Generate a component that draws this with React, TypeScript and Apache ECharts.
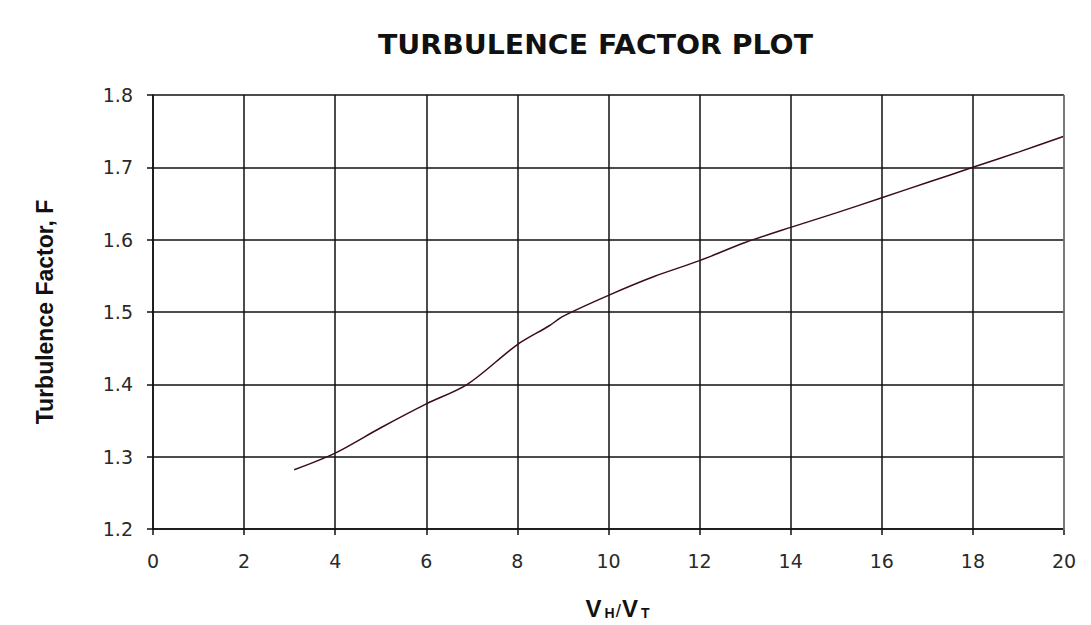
import React, { useEffect, useRef } from "react";
import * as echarts from "echarts";

const xValues = [3.1, 4, 5, 6, 6.9, 8, 8.7, 9, 10, 11, 12, 13, 14, 15, 16, 17, 18, 19, 20];
const fValues = [1.282, 1.305, 1.34, 1.373, 1.4, 1.455, 1.481, 1.494, 1.523, 1.549, 1.571, 1.596, 1.617, 1.637, 1.658, 1.679, 1.7, 1.721, 1.743];

const titleText = "TURBULENCE FACTOR PLOT";
const yAxisTitle = "Turbulence Factor, F";

export default function App() {
  const ref = useRef<HTMLDivElement>(null);
  useEffect(() => {
    if (!ref.current) return;
    const chart = echarts.init(ref.current, undefined, { renderer: "svg" });
    const data = xValues.map((x, i) => [x, fValues[i]]);
    chart.setOption({
      animation: false,
      backgroundColor: "#ffffff",
      grid: { left: 153, right: 27, top: 95, bottom: 95, containLabel: false },
      xAxis: {
        type: "value",
        min: 0,
        max: 20,
        interval: 2,
        name: "{v|V}{s|H}{sl|/}{v|V}{s|T}",
        nameLocation: "middle",
        nameGap: 67,
        nameTextStyle: {
          padding: [0, 0, 0, 18],
          rich: {
            v: { fontFamily: "Liberation Sans", fontSize: 24, fontWeight: "bold", color: "#111", lineHeight: 24, verticalAlign: "bottom", padding: [0, 3, 0, 0] },
            s: { fontFamily: "Liberation Sans", fontSize: 14, fontWeight: "bold", color: "#111", lineHeight: 24, verticalAlign: "bottom" },
            sl: { fontFamily: "Liberation Sans", fontSize: 19, color: "#111", lineHeight: 24, verticalAlign: "bottom", padding: [0, 1, 0, 1] },
          },
        },
        axisLine: { show: true, onZero: false, lineStyle: { color: "#111", width: 1.5 } },
        axisTick: { show: true, inside: false, length: 6, lineStyle: { color: "#111", width: 1.5 } },
        axisLabel: { fontFamily: "DejaVu Sans", fontSize: 19, color: "#2a2a2a", margin: 22 },
        splitLine: { show: true, lineStyle: { color: "#111", width: 1.5 } },
      },
      yAxis: {
        type: "value",
        min: 1.2,
        max: 1.8,
        interval: 0.1,
        name: yAxisTitle,
        nameLocation: "middle",
        nameGap: 97,
        nameTextStyle: { fontFamily: "Liberation Sans", fontSize: 23, fontWeight: "bold", color: "#111" },
        axisLine: { show: true, onZero: false, lineStyle: { color: "#111", width: 1.5 } },
        axisTick: { show: true, inside: false, length: 6, lineStyle: { color: "#111", width: 1.5 } },
        axisLabel: {
          fontFamily: "DejaVu Sans",
          fontSize: 19,
          color: "#2a2a2a",
          margin: 20,
          formatter: (v: number) => v.toFixed(1),
        },
        splitLine: { show: true, lineStyle: { color: "#111", width: 1.5 } },
      },
      series: [
        {
          type: "line",
          data,
          smooth: 0.3,
          showSymbol: false,
          lineStyle: { color: "#3b0d18", width: 1.5 },
        },
      ],
      graphic: [
        {
          type: "text",
          x: 378,
          y: 32,
          scaleX: 1.09,
          style: {
            text: titleText,
            font: "bold 26px 'DejaVu Sans'",
            fill: "#111",
            textAlign: "left",
            textVerticalAlign: "top",
          },
        },
        {
          type: "line",
          shape: { x1: 1064, y1: 95, x2: 1064, y2: 530 },
          style: { stroke: "#888", lineWidth: 1.5 },
          z: 10,
        },
      ],
    });
    return () => chart.dispose();
  }, []);
  return <div ref={ref} style={{ width: 1091, height: 625, position: "absolute", left: 0, top: 0 }} />;
}
